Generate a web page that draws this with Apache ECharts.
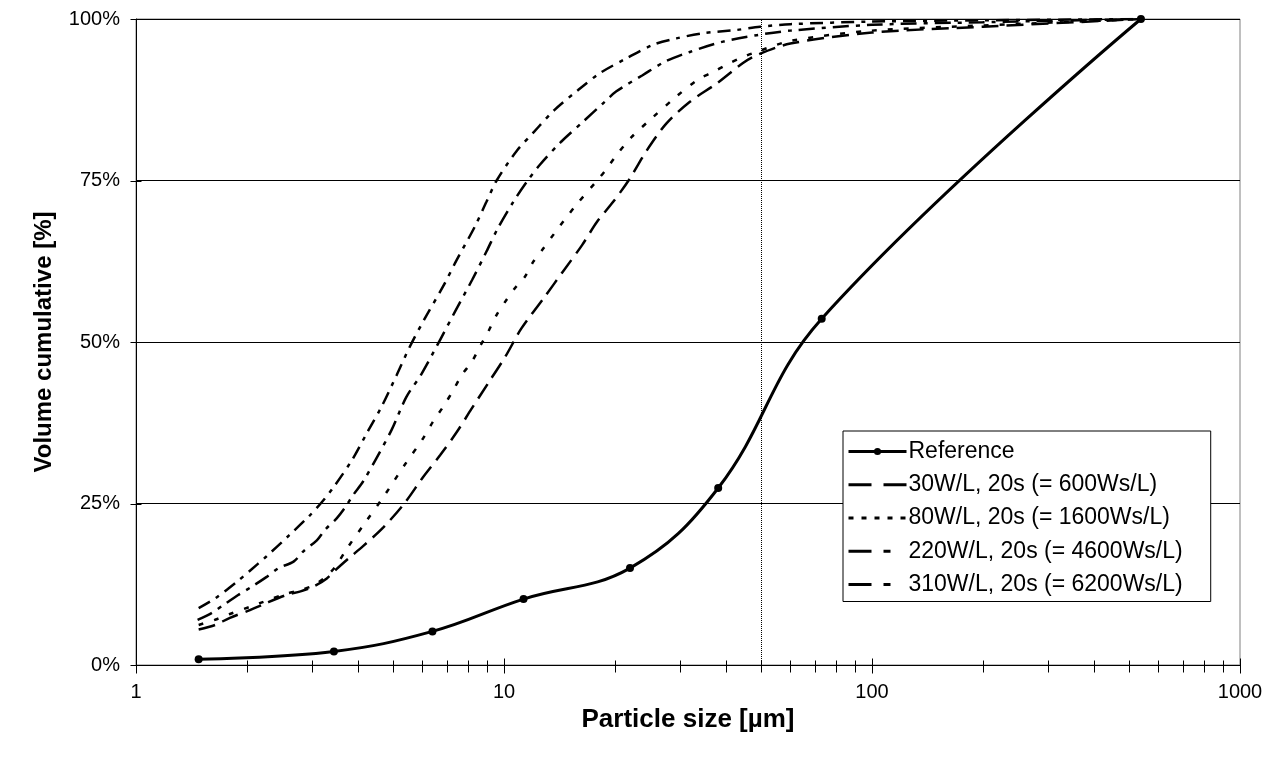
<!DOCTYPE html>
<html>
<head>
<meta charset="utf-8">
<script src="https://cdn.jsdelivr.net/npm/echarts@6/dist/echarts.min.js"></script>
<style>
  html, body { margin: 0; padding: 0; background: #fff; }
  #psd-chart { width: 1279px; height: 760px; }
</style>
</head>
<body>
<div id="psd-chart"></div>
<script>
// particle size [µm] and cumulative volume [%]
const refSize = [1.48, 3.45, 6.39, 11.3, 22, 38.2, 73, 538];
const refVol = [0.9, 2.1, 5.2, 10.2, 15.0, 27.4, 53.6, 100];

const w30Size = [1.48, 1.64, 1.8, 2.04, 2.2, 2.55, 2.8, 3.05, 3.3, 3.5, 3.8, 4.14, 4.7, 5.36, 6.03,
  6.71, 7.45, 8.15, 9.05, 10.1, 11.15, 12.9, 14.5, 16.3, 17.9, 19.8, 21.8, 24.4, 27.6, 32, 37.8,
  44.6, 48.6, 60, 100, 200, 540];
const w30Vol = [5.5, 6.2, 7.3, 8.5, 9.3, 10.8, 11.4, 12.2, 13.4, 14.8, 16.6, 18.4, 21.3, 25, 29.1,
  32.5, 36.1, 39.6, 43.6, 47.8, 52.1, 57, 61, 65, 68.6, 71.7, 75, 79.6, 83.8, 87.2, 90,
  93.2, 94.4, 96.2, 97.9, 98.8, 100];

const w80Size = [1.48, 1.64, 1.8, 2.04, 2.2, 2.55, 2.8, 3.05, 3.3, 3.5, 3.73, 4.24, 4.74, 5.33, 6.03,
  6.42, 6.84, 7.29, 7.68, 8.19, 8.6, 9.06, 9.55, 10.15, 10.8, 11.4, 12.0, 12.8, 13.7, 14.6, 15.7,
  17.9, 19, 20.2, 22.2, 25.4, 29.4, 33.6, 37, 40.2, 43.7, 47.5, 60, 100, 200, 540];
const w80Vol = [6.2, 7.0, 7.9, 9.0, 9.7, 11.0, 11.6, 12.4, 13.8, 15.4, 17.9, 22.4, 26.3, 30.7, 35.1,
  37.7, 40, 42.6, 44.9, 47, 49.3, 51.6, 54.2, 56.5, 58.6, 60.1, 62.4, 64.5, 66.8, 68.9, 71.2,
  75, 76.8, 78.9, 81.7, 84.8, 88, 90.6, 91.8, 92.9, 93.9, 94.7, 96.6, 98.2, 99.0, 100];

const w220Size = [1.47, 1.6, 1.75, 1.89, 2.06, 2.26, 2.44, 2.68, 2.85, 3.1, 3.26, 3.51, 3.69, 3.89,
  4.14, 4.5, 4.95, 5.43, 5.96, 6.7, 7.36, 8.19, 8.96, 9.62, 10.6, 11.6, 12.5, 14.3, 16.4, 18.8,
  20.2, 23.8, 27.4, 32, 39.4, 48.6, 60, 100, 200, 540];
const w220Vol = [7.0, 8.0, 9.5, 10.8, 12.1, 13.6, 15.0, 16.0, 17.6, 19.3, 20.9, 22.7, 24.3, 26.3,
  28.4, 32.0, 36.4, 41.5, 45, 50.3, 54.7, 59.6, 64, 67.6, 71.7, 75, 77.4, 81, 84.1, 87.2,
  88.8, 91.3, 93.4, 94.9, 96.5, 97.5, 98.2, 99.1, 99.5, 100];

const w310Size = [1.48, 1.64, 1.89, 2.04, 2.26, 2.61, 2.96, 3.21, 3.45, 3.88, 4.24, 4.65, 5.11, 5.55,
  6.1, 6.83, 7.44, 8.34, 8.96, 9.55, 10.8, 12.1, 13.7, 15.9, 18.2, 21.5, 25.4, 29.4, 34.8, 42.8,
  49.6, 60, 100, 200, 540];
const w310Vol = [8.8, 10.3, 13.0, 14.6, 16.8, 20.1, 23.1, 25.3, 27.6, 31.9, 35.9, 40.0, 44.9, 49.3,
  53.7, 58.6, 62.7, 67.9, 71.7, 75, 79.5, 82.6, 85.9, 89, 91.6, 93.9, 96, 97, 97.8, 98.3,
  98.8, 99.2, 99.6, 99.8, 100];

const seriesNames = ['Reference', '30W/L, 20s (= 600Ws/L)', '80W/L, 20s (= 1600Ws/L)',
  '220W/L, 20s (= 4600Ws/L)', '310W/L, 20s (= 6200Ws/L)'];

const xMajorTicks = [1, 10, 100, 1000];
const xMinorTicks = [2, 3, 4, 5, 6, 7, 8, 9, 20, 30, 40, 50, 60, 70, 80, 90,
  200, 300, 400, 500, 600, 700, 800, 900];
const yTicks = [0, 25, 50, 75, 100];
const sieveLimit = 50;

const FONT = '"Liberation Sans", Arial, sans-serif';

function zip(xs, ys) {
  return xs.map((x, i) => [x, ys[i]]);
}

// small tick marks that cross the axis line, like the original
function tickSeries(data, vertical, up, down) {
  return {
    type: 'custom',
    silent: true,
    clip: false,
    z: 5,
    data: data,
    renderItem: (params, api) => {
      const p = api.coord([api.value(0), api.value(1)]);
      const x = Math.round(p[0]) + 0.5;
      const y = Math.round(p[1]) + 0.5;
      const shape = vertical
        ? { x1: x, y1: y - up, x2: x, y2: y + down }
        : { x1: x - up, y1: y, x2: x + down, y2: y };
      return { type: 'line', shape: shape, style: { stroke: '#000', lineWidth: 1 } };
    }
  };
}

function dashedSeries(name, sizes, vols, dash) {
  return {
    name: name,
    type: 'line',
    data: zip(sizes, vols),
    smooth: 0.3,
    symbol: 'none',
    lineStyle: { color: '#000', width: 2.5, type: dash },
    itemStyle: { color: '#000' }
  };
}

// legend samples use their own (longer) dash patterns, as in the original
const legendItems = [
  { name: seriesNames[0], lineStyle: { width: 3 } },
  { name: seriesNames[1], itemStyle: { opacity: 0 }, lineStyle: { width: 3, type: [23, 12] } },
  { name: seriesNames[2], itemStyle: { opacity: 0 }, lineStyle: { width: 3, type: [5, 8] } },
  { name: seriesNames[3], itemStyle: { opacity: 0 }, lineStyle: { width: 3, type: [23, 12, 7, 100] } },
  { name: seriesNames[4], itemStyle: { opacity: 0 }, lineStyle: { width: 3, type: [23, 12, 7, 100] } }
];

const chart = echarts.init(document.getElementById('psd-chart'));

const option = {
  animation: false,
  backgroundColor: '#fff',
  grid: {
    left: 136, right: 39, top: 19, bottom: 95,
    show: true, borderColor: '#808080', borderWidth: 1, backgroundColor: 'transparent'
  },
  legend: {
    data: legendItems,
    selectedMode: false,
    orient: 'vertical',
    left: 843,
    top: 431,
    backgroundColor: '#fff',
    borderColor: '#000',
    borderWidth: 1,
    borderRadius: 0,
    padding: [8.5, 28, 5, 4],
    itemWidth: 58,
    itemHeight: 9,
    itemGap: 9.25,
    textStyle: { fontFamily: FONT, fontSize: 23, color: '#000', lineHeight: 24, padding: [0, 0, 0, -3] }
  },
  xAxis: {
    type: 'log',
    logBase: 10,
    min: 1,
    max: 1000,
    name: 'Particle size [µm]',
    nameLocation: 'middle',
    nameGap: 39,
    nameTextStyle: { fontFamily: FONT, fontSize: 26, fontWeight: 'bold', color: '#000' },
    axisLine: { show: true, lineStyle: { color: '#000', width: 1 } },
    axisTick: { show: false },
    splitLine: { show: false },
    minorTick: { show: false },
    axisLabel: {
      fontFamily: FONT, fontSize: 20, color: '#000', margin: 17,
      formatter: v => String(v)
    }
  },
  yAxis: {
    type: 'value',
    min: 0,
    max: 100,
    interval: 25,
    name: 'Volume cumulative [%]',
    nameLocation: 'middle',
    nameGap: 80,
    nameTextStyle: { fontFamily: FONT, fontSize: 24, fontWeight: 'bold', color: '#000' },
    axisLine: { show: true, lineStyle: { color: '#000', width: 1 } },
    axisTick: { show: false },
    splitLine: { show: true, lineStyle: { color: '#000', width: 1 } },
    axisLabel: { fontFamily: FONT, fontSize: 20, color: '#000', margin: 16, formatter: '{value}%' }
  },
  series: [
    {
      name: seriesNames[0],
      type: 'line',
      data: zip(refSize, refVol),
      smooth: 0.4,
      symbol: 'circle',
      symbolSize: 8,
      showAllSymbol: true,
      z: 4,
      lineStyle: { color: '#000', width: 3 },
      itemStyle: { color: '#000' },
      markLine: {
        silent: true,
        symbol: 'none',
        label: { show: false },
        lineStyle: { type: 'dotted', color: '#000', width: 1 },
        data: [{ xAxis: sieveLimit }]
      }
    },
    dashedSeries(seriesNames[1], w30Size, w30Vol, [17, 8]),
    dashedSeries(seriesNames[2], w80Size, w80Vol, [5, 11]),
    dashedSeries(seriesNames[3], w220Size, w220Vol, [16, 7, 4, 7]),
    dashedSeries(seriesNames[4], w310Size, w310Vol, [13, 7, 4, 7]),
    tickSeries(xMajorTicks.map(v => [v, 0]), true, 7, 8),
    tickSeries(xMinorTicks.map(v => [v, 0]), true, 5, 7),
    tickSeries(yTicks.map(v => [1, v]), false, 6, 5)
  ]
};

chart.setOption(option);
</script>
</body>
</html>
